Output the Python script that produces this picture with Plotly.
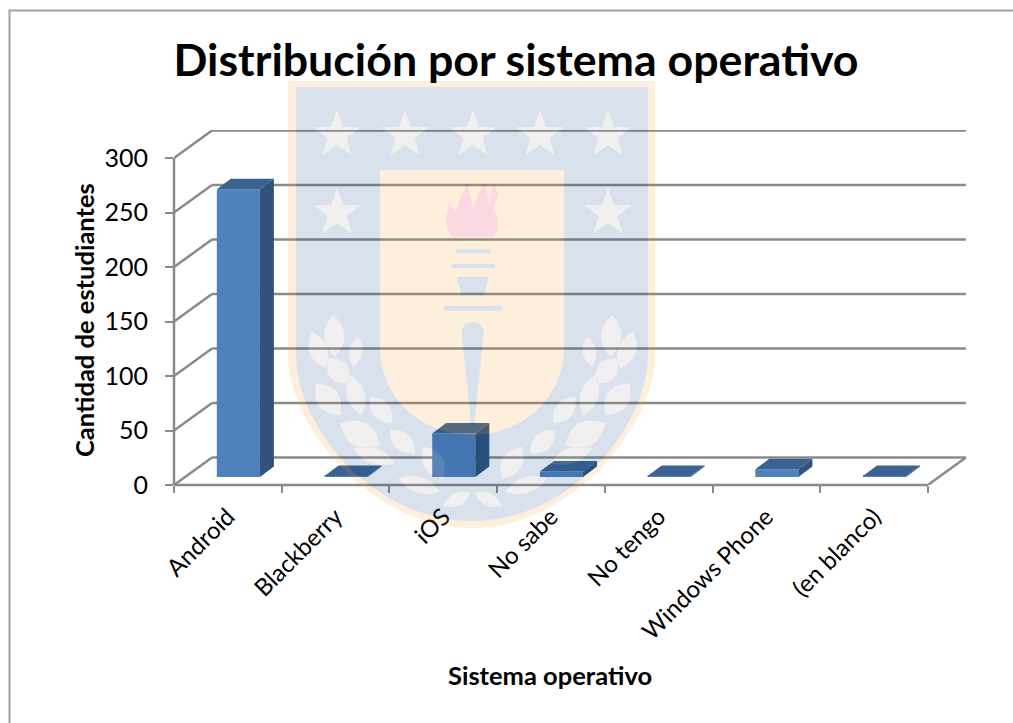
import math
import plotly.graph_objects as go

# ---- data ----
categories = ["Android", "Blackberry", "iOS", "No sabe", "No tengo", "Windows Phone", "(en blanco)"]
students = [264, 1, 40, 5, 1, 7, 1]
y_ticks = [0, 50, 100, 150, 200, 250, 300]
title_text = "Distribución por sistema operativo"
y_title = "Cantidad de estudiantes"
x_title = "Sistema operativo"

# ---- geometry of the fake 3-D box (in axis units) ----
W, H = 1013, 723
L, R, T, B = 174, 968, 130, 485          # plot area in pixels
X_RANGE = [-0.5, -0.5 + (R - L) / 107.7]
Y_RANGE = [0, (B - T) / 1.09]
WALL_DX, WALL_DY = 38 / 107.7, 27.5 / 1.09
BAR_W = 0.4
FRONT_DX, FRONT_DY = 10.5 / 107.7, 8 / 1.09
TOP_DX, TOP_DY = 14 / 107.7, 10.5 / 1.09

GRID = "#8a8a8a"
FRONT, SIDE, TOP_C = "#4f81bd", "#30527c", "#3a6394"
FONT = "Lato"
GOLD, BLUE = "#f29416", "#003f7f"

line = dict(color=GRID, width=2.5)
shapes = []


def seg(x0, y0, x1, y1, xref="x", yref="y"):
    shapes.append(dict(type="line", x0=x0, y0=y0, x1=x1, y1=y1, xref=xref, yref=yref,
                       line=line, layer="below"))


xl, xr = -0.5, 6.5
for v in y_ticks:
    seg(xl, v, xl + WALL_DX, v + WALL_DY)
    seg(xl + WALL_DX, v + WALL_DY, xr + WALL_DX, v + WALL_DY)
seg(xr, 0, xr + WALL_DX, WALL_DY)
seg(0, 0, 0, 300, xref="paper")
seg(xl, 0, xr, 0, yref="paper")

# ---- chart border ----
shapes.append(dict(type="rect", xref="paper", yref="paper", layer="above",
                   x0=(9.5 - L) / (R - L), x1=(1030 - L) / (R - L),
                   y0=(B - 740) / (B - T), y1=(B - 10.5) / (B - T),
                   line=dict(color="#a0a0a0", width=2), fillcolor="rgba(0,0,0,0)"))


# ---- translucent shield watermark ----
def pp(px, py):
    return f"{(px - L) / (R - L):.5f},{(B - py) / (B - T):.5f}"


def z(x, y):
    return x / 3 + 280, y / 3 + 80


def poly(points):
    return "M" + " L".join(pp(*p) for p in points) + " Z "


def shield(x0, x1, top, side, cx, bottom):
    return (f"M{pp(x0, top)} L{pp(x1, top)} L{pp(x1, side)} "
            f"C{pp(x1 - 2, side + 73)} {pp(cx + 97, bottom)} {pp(cx, bottom)} "
            f"C{pp(cx - 97, bottom)} {pp(x0 + 2, side + 73)} {pp(x0, side)} Z ")


def star(cx, cy, r):
    pts = []
    for i in range(10):
        rad = r if i % 2 == 0 else r * 0.40
        a = -math.pi / 2 + i * math.pi / 5
        pts.append((cx + rad * math.cos(a), cy + rad * math.sin(a)))
    return poly(pts)


def leaf(x1, y1, x2, y2, w):
    ax, ay = z(x1, y1)
    bx, by = z(x2, y2)
    mx, my = (ax + bx) / 2, (ay + by) / 2
    dx, dy = bx - ax, by - ay
    n = (dx * dx + dy * dy) ** 0.5
    ox, oy = -dy / n * w / 2.2, dx / n * w / 2.2
    return (f"M{pp(ax, ay)} Q{pp(mx + ox, my + oy)} {pp(bx, by)} "
            f"Q{pp(mx - ox, my - oy)} {pp(ax, ay)} Z ")


outer = shield(288, 655, 81, 357, 472, 528)
blue_edge = shield(296, 648, 87, 357, 472, 521)
inner = (f"M{pp(380, 170)} L{pp(564, 170)} L{pp(564, 347)} "
         f"C{pp(564, 400)} {pp(520, 435)} {pp(472, 435)} "
         f"C{pp(424, 435)} {pp(380, 400)} {pp(380, 347)} Z ")

stars = "".join(star(x, 135, 25) for x in (337, 405, 473, 540, 608)) + \
        star(337, 213, 25) + star(608, 213, 25)

left_leaves = [
    (160, 705, 165, 830, 45), (95, 755, 135, 865, 40), (235, 770, 220, 860, 30),
    (145, 835, 205, 910, 45), (108, 910, 180, 1005, 50), (210, 885, 245, 1005, 40),
    (270, 950, 335, 1030, 40), (180, 1030, 300, 1095, 55), (330, 1050, 405, 1120, 40),
    (220, 1105, 345, 1150, 35), (430, 1100, 490, 1195, 45), (355, 1195, 480, 1235, 35),
    (490, 1278, 572, 1238, 28),
]
leaves = "".join(leaf(*l) for l in left_leaves)
leaves += "".join(leaf(1156 - a, b, 1156 - c, d, w) for a, b, c, d, w in left_leaves)

flame = poly([z(*p) for p in [(515, 470), (500, 445), (497, 415), (507, 370), (527, 395), (545, 345),
                              (562, 310), (572, 350), (580, 385), (598, 335), (615, 305), (622, 345),
                              (628, 372), (640, 310), (655, 340), (640, 385), (655, 420), (652, 450),
                              (640, 470)]])
torch = "".join(poly([z(*p) for p in pts]) for pts in [
    [(527, 508), (632, 508), (632, 520), (527, 520)],
    [(515, 552), (644, 552), (644, 564), (515, 564)],
    [(530, 590), (627, 590), (612, 645), (545, 645)],
    [(493, 678), (665, 678), (665, 692), (493, 692)],
])
hx, hy = z(578, 760)
tx, ty = z(578, 1035)
torch += (f"M{pp(hx - 11, hy)} C{pp(hx - 11, hy - 15)} {pp(hx + 11, hy - 15)} {pp(hx + 11, hy)} "
          f"L{pp(tx + 1.5, ty)} L{pp(tx - 1.5, ty)} Z ")


def mark(path, color):
    shapes.append(dict(type="path", path=path, xref="paper", yref="paper", layer="above",
                       fillcolor=color, opacity=0.15, fillrule="evenodd",
                       line=dict(width=0)))


mark(outer + blue_edge, GOLD)
mark(blue_edge + inner + stars + leaves, BLUE)
mark(inner + flame + torch, GOLD)
mark(stars + leaves, "#999999")
mark(flame, "#e8003d")
mark(torch, BLUE)

# ---- marks ----
fig = go.Figure()
xs = list(range(len(categories)))
fig.add_trace(go.Bar(
    x=xs, y=students, base=[FRONT_DY] * len(xs), width=BAR_W, offset=-BAR_W / 2 + FRONT_DX,
    marker=dict(color=FRONT, line=dict(width=0)), name="Estudiantes",
    hovertemplate="%{customdata}: %{y}<extra></extra>", customdata=categories,
))

top_x, top_y, side_x, side_y = [], [], [], []
for i, v in zip(xs, students):
    x0 = i - BAR_W / 2 + FRONT_DX
    x1 = x0 + BAR_W
    y0, y1 = FRONT_DY, FRONT_DY + v
    top_x += [x0, x1, x1 + TOP_DX, x0 + TOP_DX, x0, None]
    top_y += [y1, y1, y1 + TOP_DY, y1 + TOP_DY, y1, None]
    side_x += [x1, x1 + TOP_DX, x1 + TOP_DX, x1, x1, None]
    side_y += [y0, y0 + TOP_DY, y1 + TOP_DY, y1, y0, None]
for px_, py_, col in ((side_x, side_y, SIDE), (top_x, top_y, TOP_C)):
    fig.add_trace(go.Scatter(x=px_, y=py_, mode="lines", fill="toself", fillcolor=col,
                             line=dict(width=0, color=col), hoverinfo="skip", showlegend=False))

annotations = [
    dict(text=f"<b>{y_title}</b>", xref="paper", yref="paper",
         x=(84 - L) / (R - L), y=(B - 320) / (B - T), textangle=-90, showarrow=False,
         xanchor="center", yanchor="middle", font=dict(family=FONT, size=25.5, color="#000")),
    dict(text=f"<b>{x_title}</b>", xref="paper", yref="paper",
         x=(550 - L) / (R - L), y=(B - 675) / (B - T), showarrow=False,
         xanchor="center", yanchor="middle", font=dict(family=FONT, size=25.5, color="#000")),
]

fig.update_layout(
    width=W, height=H, margin=dict(l=L, r=W - R, t=T, b=H - B, autoexpand=False),
    paper_bgcolor="white", plot_bgcolor="rgba(0,0,0,0)", showlegend=False,
    title=dict(text=f"<b>{title_text}</b>", x=516 / W, xanchor="center", xref="container",
               y=1 - 60 / H, yanchor="middle", font=dict(family=FONT, size=44.7, color="#000")),
    shapes=shapes, annotations=annotations,
    xaxis=dict(range=X_RANGE, tickmode="array", tickvals=xs, ticktext=categories, tickangle=-45,
               ticks="", showgrid=False, zeroline=False, showline=False, ticklabelstandoff=12,
               tickfont=dict(family=FONT, size=24, color="#000"),
               minor=dict(tickmode="array", tickvals=[i - 0.5 for i in range(len(xs) + 1)],
                          ticks="outside", ticklen=7, tickwidth=2, tickcolor=GRID, showgrid=False)),
    yaxis=dict(range=Y_RANGE, tickmode="array", tickvals=y_ticks, ticks="outside", ticklen=8,
               tickwidth=2, tickcolor=GRID, showgrid=False, zeroline=False, showline=False,
               ticklabelstandoff=12, tickfont=dict(family=FONT, size=25, color="#000")),
)

fig.write_html("out.html", post_script="document.body.style.margin='0';",
               config={"displayModeBar": False})
